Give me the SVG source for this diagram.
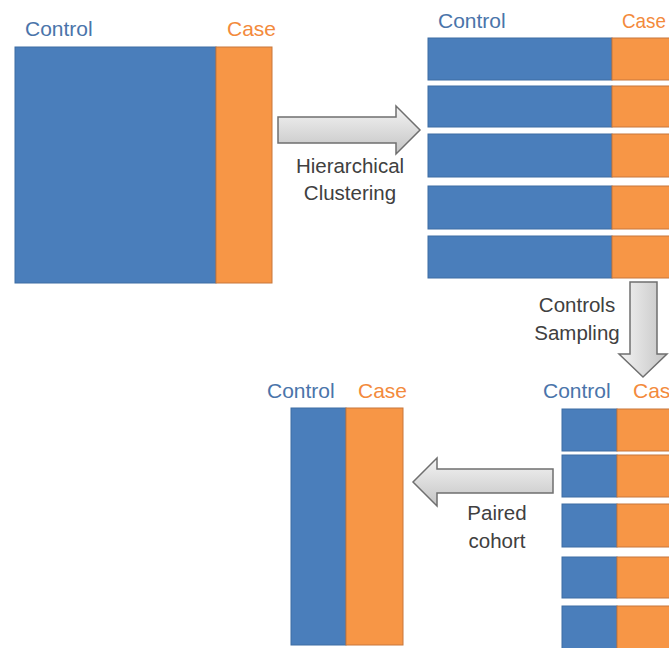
<svg xmlns="http://www.w3.org/2000/svg" width="669" height="648" viewBox="0 0 669 648">
  <style>
    .ctl { fill: #4a7ebb; stroke: #3d6ca3; stroke-width: 1; }
    .cas { fill: #f79646; stroke: #c8773a; stroke-width: 1; }
    .lbl { font-family: "Liberation Sans", Arial, sans-serif; font-size: 21px; }
    .lc { fill: #4a74aa; }
    .lo { fill: #f38a3c; }
    .cap { font-family: "Liberation Sans", Arial, sans-serif; font-size: 20.5px; fill: #404040; text-anchor: middle; }
    .arrow { fill: url(#arrowFill); stroke: #6f6f6f; stroke-width: 1.5; stroke-linejoin: miter; }
  </style>
  <defs>
    <linearGradient id="arrowFill" x1="0" y1="0" x2="0" y2="1">
      <stop offset="0" stop-color="#f4f4f4"/>
      <stop offset="1" stop-color="#c4c4c4"/>
    </linearGradient>
    <linearGradient id="arrowFillV" x1="0" y1="0" x2="1" y2="0">
      <stop offset="0" stop-color="#f4f4f4"/>
      <stop offset="1" stop-color="#c4c4c4"/>
    </linearGradient>
  </defs>
  <rect width="669" height="648" fill="#ffffff"/>

  <!-- full cohort -->
  <g id="cohort-full">
    <text class="lbl lc" x="25" y="36">Control</text>
    <text class="lbl lo" x="227" y="36">Case</text>
    <rect class="ctl" x="15" y="47" width="201" height="236"/>
    <rect class="cas" x="216" y="47" width="56" height="236"/>
  </g>

  <!-- clustered cohort -->
  <g id="cohort-clusters">
    <text class="lbl lc" x="438" y="28">Control</text>
    <text class="lbl lo" x="622" y="28" textLength="44" lengthAdjust="spacingAndGlyphs">Case</text>
    <rect class="ctl" x="428" y="38" width="184" height="42"/>
    <rect class="cas" x="612" y="38" width="60" height="42"/>
    <rect class="ctl" x="428" y="86" width="184" height="41"/>
    <rect class="cas" x="612" y="86" width="60" height="41"/>
    <rect class="ctl" x="428" y="134" width="184" height="43"/>
    <rect class="cas" x="612" y="134" width="60" height="43"/>
    <rect class="ctl" x="428" y="186" width="184" height="43"/>
    <rect class="cas" x="612" y="186" width="60" height="43"/>
    <rect class="ctl" x="428" y="236" width="184" height="42"/>
    <rect class="cas" x="612" y="236" width="60" height="42"/>
  </g>

  <!-- sampled cohort -->
  <g id="cohort-sampled">
    <text class="lbl lc" x="543" y="398">Control</text>
    <text class="lbl lo" x="633" y="398">Case</text>
    <rect class="ctl" x="562" y="409" width="55" height="42"/>
    <rect class="cas" x="617" y="409" width="60" height="42"/>
    <rect class="ctl" x="562" y="455" width="55" height="42"/>
    <rect class="cas" x="617" y="455" width="60" height="42"/>
    <rect class="ctl" x="562" y="504" width="55" height="43"/>
    <rect class="cas" x="617" y="504" width="60" height="43"/>
    <rect class="ctl" x="562" y="557" width="55" height="41"/>
    <rect class="cas" x="617" y="557" width="60" height="41"/>
    <rect class="ctl" x="562" y="606" width="55" height="46"/>
    <rect class="cas" x="617" y="606" width="60" height="46"/>
  </g>

  <!-- paired cohort -->
  <g id="cohort-paired">
    <text class="lbl lc" x="267" y="398">Control</text>
    <text class="lbl lo" x="358" y="398">Case</text>
    <rect class="ctl" x="291" y="408" width="55" height="237"/>
    <rect class="cas" x="346" y="408" width="57" height="237"/>
  </g>

  <!-- process arrows -->
  <g id="connectors">
    <g id="step-clustering">
      <path class="arrow" d="M278 117 H396 V106 L420 130 L396 154 V143 H278 Z"/>
      <text class="cap" x="350" y="173">Hierarchical</text>
      <text class="cap" x="350" y="200">Clustering</text>
    </g>
    <g id="step-sampling">
      <path class="arrow" style="fill:url(#arrowFillV)" d="M630 282 H657 V354 H667 L643 377 L619 354 H630 Z"/>
      <text class="cap" x="577" y="312">Controls</text>
      <text class="cap" x="577" y="340">Sampling</text>
    </g>
    <g id="step-pairing">
      <path class="arrow" d="M553 469 V493 H437 V506 L413 482 L437 458 V469 Z"/>
      <text class="cap" x="497" y="520">Paired</text>
      <text class="cap" x="497" y="548">cohort</text>
    </g>
  </g>
</svg>
